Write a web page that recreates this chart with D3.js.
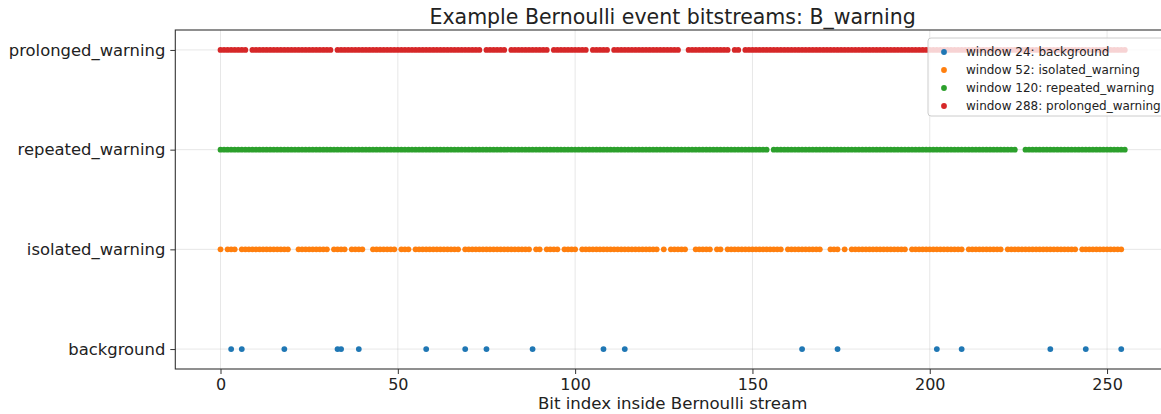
<!DOCTYPE html>
<html>
<head>
<meta charset="utf-8">
<script src="https://cdn.jsdelivr.net/npm/d3@7/dist/d3.min.js"></script>
<style>
  body { margin: 0; background: #fff; }
  svg { display: block; font-family: "DejaVu Sans", sans-serif; }
</style>
</head>
<body>
<div class="chartContainer"></div>
<script>
// Categories (bottom to top) and legend labels
var categories = ["background", "isolated_warning", "repeated_warning", "prolonged_warning"];
var legendLabels = ["window 24: background", "window 52: isolated_warning", "window 120: repeated_warning", "window 288: prolonged_warning"];
var colors = ["#1f77b4", "#ff7f0e", "#2ca02c", "#d62728"];
var xTicks = [0, 50, 100, 150, 200, 250];

// bit positions that are 1 (background is sparse)
var backgroundOnes = [3, 6, 18, 33, 34, 39, 58, 69, 75, 88, 108, 114, 164, 174, 202, 209, 234, 244, 254];

// 256-bit streams in groups of 8
var isolatedBits = "10111011 11111111 11110011 11111110 11110111 10011111 11011101 11111111 " +
                   "11110111 11111111 11111111 01101111 01111011 11111111 11111111 11110101 " +
                   "11110011 11101101 11111111 11111110 11111111 11001110 10111111 11111111 " +
                   "11011111 11111111 11011111 11111011 11111111 11111111 11011111 11111110";
var repeatedBits = "11111111 11111111 11111111 11111111 11111111 11111111 11111111 11111111 " +
                   "11111111 11111111 11111111 11111111 11111111 11111111 11111111 11111111 " +
                   "11111111 11111111 11111111 11101111 11111111 11111111 11111111 11111111 " +
                   "11111111 11111111 11111111 11111111 10011111 11111111 11111111 11111111";
var prolongedBits = "11111111 01111111 11111111 11111111 01111111 11111111 11111111 11111111 " +
                    "11111111 11011111 10111111 11111011 11111111 01111101 11111111 11111111 " +
                    "11001111 11111111 01101111 11111111 11111111 11111111 11111111 11111111 " +
                    "11111111 11111111 11111111 11111111 11111111 11111111 11111111 11111111";

var onesFromBits = function (s) {
    var bits = s.replace(/ /g, "").split("");
    var out = [];
    bits.forEach((b, i) => { if (b === "1") out.push(i); });
    return out;
};

var seriesOnes = [backgroundOnes, onesFromBits(isolatedBits), onesFromBits(repeatedBits), onesFromBits(prolongedBits)];

var points = [];
seriesOnes.forEach((list, k) => {
    list.forEach((idx) => points.push({ bit: idx, row: k }));
});

var width = 1161, height = 414;
var plotLeft = 175.3, plotRight = 1170, plotTop = 30, plotBottom = 369;

var svg = d3.select(".chartContainer").append("svg")
    .attr("width", width)
    .attr("height", height);

var x = d3.scaleLinear().domain([-12.75, 267.75]).range([plotLeft, plotRight]);
var y = d3.scaleLinear().domain([-0.2, 3.2]).range([plotBottom, plotTop]);

// grid
svg.selectAll(".vgrid").data(xTicks).enter().append("line")
    .attr("class", "vgrid")
    .attr("x1", (d) => x(d)).attr("x2", (d) => x(d))
    .attr("y1", plotTop).attr("y2", plotBottom)
    .style("stroke", "#b0b0b0").style("stroke-opacity", 0.3).style("stroke-width", 1);

svg.selectAll(".hgrid").data(categories).enter().append("line")
    .attr("class", "hgrid")
    .attr("x1", plotLeft).attr("x2", plotRight)
    .attr("y1", (d, i) => y(i)).attr("y2", (d, i) => y(i))
    .style("stroke", "#b0b0b0").style("stroke-opacity", 0.3).style("stroke-width", 1);

// points
svg.selectAll(".dot").data(points).enter().append("circle")
    .attr("class", "dot")
    .attr("cx", (d) => x(d.bit))
    .attr("cy", (d) => y(d.row))
    .attr("r", 2.9)
    .style("fill", (d) => colors[d.row]);

// frame
svg.append("rect")
    .attr("x", plotLeft).attr("y", plotTop)
    .attr("width", plotRight - plotLeft).attr("height", plotBottom - plotTop)
    .style("fill", "none").style("stroke", "#333").style("stroke-width", 1.1);

// x axis
var xAxis = d3.axisBottom(x).tickValues(xTicks).tickSize(5).tickPadding(5);
var gx = svg.append("g").attr("transform", "translate(0," + plotBottom + ")").call(xAxis);
gx.select(".domain").remove();
gx.selectAll("line").style("stroke", "#333");
gx.selectAll("text").style("font-size", "16px").style("fill", "#222").attr("font-family", "DejaVu Sans");

// y axis
var yAxis = d3.axisLeft(y).tickValues([0, 1, 2, 3]).tickFormat((d) => categories[d]).tickSize(5).tickPadding(5);
var gy = svg.append("g").attr("transform", "translate(" + plotLeft + ",0)").call(yAxis);
gy.select(".domain").remove();
gy.selectAll("line").style("stroke", "#333");
gy.selectAll("text").style("font-size", "16.4px").style("fill", "#222").attr("font-family", "DejaVu Sans");

// title & label
svg.append("text")
    .attr("x", (plotLeft + plotRight) / 2).attr("y", 24)
    .attr("text-anchor", "middle")
    .style("font-size", "20.5px").style("fill", "#222")
    .text("Example Bernoulli event bitstreams: B_warning");

svg.append("text")
    .attr("x", (plotLeft + plotRight) / 2).attr("y", 409)
    .attr("text-anchor", "middle")
    .style("font-size", "16.6px").style("fill", "#222")
    .text("Bit index inside Bernoulli stream");

// legend
var legend = svg.append("g").attr("transform", "translate(928,38)");
legend.append("rect")
    .attr("x", 0).attr("y", 0).attr("width", 245).attr("height", 78).attr("rx", 3)
    .style("fill", "#fff").style("fill-opacity", 0.8)
    .style("stroke", "#ccc").style("stroke-width", 1);

var items = legend.selectAll(".item").data(legendLabels).enter().append("g")
    .attr("class", "item")
    .attr("transform", (d, i) => "translate(0," + (14 + i * 18) + ")");
items.append("circle").attr("cx", 16).attr("cy", 0).attr("r", 2.9)
    .style("fill", (d, i) => colors[i]);
items.append("text").attr("x", 38).attr("y", 4.3)
    .style("font-size", "12px").style("fill", "#222")
    .text((d) => d);
</script>
</body>
</html>
